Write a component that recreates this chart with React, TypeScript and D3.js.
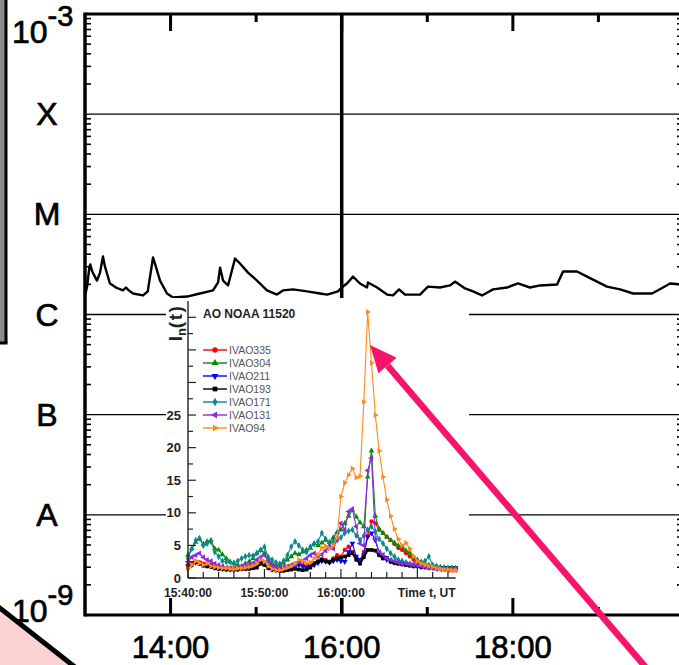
import React from "react";
import * as d3 from "d3";

// ---------- main GOES X-ray panel data ----------
// minutes since 13:00 UT and flux (W/m^2)
const goesMinutes = [0, 1.5, 3, 3.7, 5, 8.4, 10.5, 12.6, 14, 17.5, 22, 26.6, 28.7, 30.5, 33.7, 40.7, 44, 47.7, 50, 52.6, 57.5, 61.7, 71.5, 80.6, 89.8, 93.3, 94.7, 96.8, 100.3, 105.2, 108.7, 114.3, 120.6, 127.6, 134.6, 138.8, 145.8, 155.7, 164.8, 169.7, 177.4, 180, 183.7, 187.9, 192.8, 197.7, 198.4, 204.8, 211.8, 216, 220.2, 224.4, 234.9, 240.5, 248.9, 255.9, 259.4, 266.5, 272.1, 278.4, 286.1, 295.9, 303.6, 312, 319.1, 331, 335.2, 345, 352, 366, 375.2, 384.3, 397.6, 405.3, 410.2, 420];
const goesFlux = [1.55e-6, 1.9e-6, 2.94e-6, 3.16e-6, 2.7e-6, 2.18e-6, 2.6e-6, 3.79e-6, 3.0e-6, 2.04e-6, 1.85e-6, 1.74e-6, 1.86e-6, 1.75e-6, 1.62e-6, 1.55e-6, 1.7e-6, 3.71e-6, 2.9e-6, 2.18e-6, 1.62e-6, 1.48e-6, 1.51e-6, 1.62e-6, 1.74e-6, 2.09e-6, 2.94e-6, 2.18e-6, 1.95e-6, 3.62e-6, 3.23e-6, 2.62e-6, 2.18e-6, 1.74e-6, 1.58e-6, 1.74e-6, 1.78e-6, 1.70e-6, 1.62e-6, 1.58e-6, 1.70e-6, 1.86e-6, 2.04e-6, 2.39e-6, 2.04e-6, 1.86e-6, 2.09e-6, 1.86e-6, 1.58e-6, 1.55e-6, 1.78e-6, 1.58e-6, 1.58e-6, 1.90e-6, 1.86e-6, 1.95e-6, 2.13e-6, 1.82e-6, 1.70e-6, 1.55e-6, 1.78e-6, 1.86e-6, 2.04e-6, 1.86e-6, 1.95e-6, 1.99e-6, 2.69e-6, 2.69e-6, 2.39e-6, 1.90e-6, 1.78e-6, 1.62e-6, 1.62e-6, 1.86e-6, 2.04e-6, 1.99e-6];

const classLetters = ["A", "B", "C", "M", "X"];
const classDecades = [1e-8, 1e-7, 1e-6, 1e-5, 1e-4];
const mainHourTicks = [14, 15, 16, 17, 18, 19];
const mainHourLabels = ["14:00", "16:00", "18:00"];
const mainHourLabelValues = [14, 16, 18];

// ---------- inset data (minutes after 15:40:00, every 30 s) ----------
const insetMinutes = d3.range(0, 35.01, 0.5);
const seriesNames = ["IVAO335", "IVAO304", "IVAO211", "IVAO193", "IVAO171", "IVAO131", "IVAO94"];
const ivao335 = [2.0, 2.2, 2.5, 2.4, 2.2, 2.2, 2.0, 1.8, 1.7, 1.6, 1.5, 1.5, 1.5, 1.5, 1.6, 1.7, 1.8, 1.9, 2.2, 2.6, 2.4, 1.8, 1.5, 1.4, 1.4, 1.5, 1.6, 1.8, 2.0, 2.2, 2.0, 1.9, 2.0, 2.3, 2.6, 2.9, 2.8, 2.5, 3.0, 3.5, 3.3, 4.3, 4.8, 4.0, 3.2, 2.8, 4.0, 6.5, 8.7, 8.4, 7.4, 6.9, 6.3, 5.8, 5.2, 4.6, 4.3, 3.8, 3.3, 2.8, 2.4, 2.2, 2.0, 1.8, 1.7, 1.6, 1.5, 1.5, 1.4, 1.4, 1.4];
const ivao304 = [3.5, 4.5, 5.5, 6.0, 5.2, 5.6, 5.8, 4.5, 4.3, 3.6, 3.0, 2.5, 2.2, 2.0, 1.8, 2.2, 2.5, 3.0, 3.8, 4.3, 3.8, 2.8, 2.2, 2.0, 2.0, 2.3, 2.8, 3.3, 3.8, 3.6, 4.0, 4.3, 4.6, 5.3, 5.0, 5.4, 5.8, 5.5, 6.2, 7.0, 7.4, 8.4, 9.5, 10.4, 9.4, 8.5, 7.9, 15.5, 19.5, 9.5, 7.5, 6.9, 6.3, 5.8, 5.4, 5.0, 4.8, 4.2, 3.8, 3.2, 2.8, 2.5, 2.2, 2.0, 1.9, 1.8, 1.7, 1.6, 1.5, 1.5, 1.5];
const ivao211 = [1.8, 2.0, 2.4, 2.3, 2.0, 1.9, 1.8, 1.6, 1.5, 1.4, 1.4, 1.3, 1.3, 1.4, 1.5, 1.5, 1.6, 1.7, 2.0, 2.4, 2.2, 1.6, 1.3, 1.2, 1.2, 1.3, 1.4, 1.6, 1.8, 2.0, 1.8, 1.6, 1.8, 2.0, 2.3, 2.6, 2.5, 2.4, 2.6, 2.8, 2.6, 2.5, 4.0, 5.3, 3.3, 2.8, 3.5, 6.3, 6.9, 5.8, 3.8, 3.2, 2.8, 2.6, 2.4, 2.3, 2.2, 2.1, 2.0, 1.9, 1.8, 1.7, 1.7, 1.6, 1.6, 1.5, 1.5, 1.5, 1.5, 1.5, 1.5];
const ivao193 = [1.6, 2.0, 2.5, 2.2, 1.9, 1.8, 1.7, 1.5, 1.4, 1.4, 1.3, 1.3, 1.3, 1.3, 1.4, 1.4, 1.4, 1.5, 1.6, 2.2, 2.0, 1.5, 1.3, 1.2, 1.1, 1.1, 1.2, 1.3, 1.4, 1.3, 1.2, 1.3, 1.6, 2.2, 2.5, 2.8, 2.6, 2.4, 2.8, 3.0, 3.1, 3.3, 3.5, 3.8, 2.8, 2.2, 3.2, 4.3, 4.3, 4.2, 3.5, 3.0, 3.1, 2.5, 2.3, 2.2, 2.1, 2.0, 1.9, 1.8, 1.8, 1.7, 1.7, 1.6, 1.6, 1.5, 1.5, 1.5, 1.5, 1.5, 1.5];
const ivao171 = [3.0, 4.5, 5.8, 6.1, 5.0, 5.3, 5.6, 4.0, 3.3, 2.6, 2.5, 2.4, 2.3, 2.6, 3.0, 3.3, 3.5, 3.4, 3.8, 4.3, 4.8, 3.2, 2.8, 2.4, 2.2, 2.6, 3.5, 4.8, 5.6, 5.0, 4.3, 4.0, 4.8, 5.2, 5.6, 6.9, 6.0, 5.3, 5.6, 5.8, 6.2, 6.9, 7.2, 7.4, 6.5, 5.8, 6.5, 7.4, 7.9, 7.1, 6.0, 5.3, 4.5, 3.8, 3.3, 2.8, 2.6, 2.4, 2.2, 2.1, 2.0, 2.2, 2.6, 3.3, 2.0, 1.8, 1.6, 1.5, 1.5, 1.5, 1.5];
const ivao131 = [2.5, 3.2, 3.5, 3.8, 3.2, 2.8, 2.6, 2.2, 2.0, 1.8, 1.6, 1.5, 1.5, 1.6, 1.8, 2.0, 2.0, 2.3, 2.8, 3.2, 3.5, 2.5, 2.0, 1.7, 1.6, 1.7, 1.8, 2.0, 2.2, 2.5, 2.6, 3.0, 3.5, 3.8, 3.3, 3.6, 4.2, 4.8, 4.5, 6.0, 8.4, 7.4, 10.2, 10.6, 7.9, 5.3, 5.0, 16.5, 18.4, 6.0, 4.0, 3.6, 3.0, 2.8, 2.6, 2.4, 2.2, 2.2, 2.1, 2.0, 2.0, 1.8, 1.7, 1.6, 1.5, 1.4, 1.3, 1.3, 1.2, 1.2, 1.2];
const ivao94 = [1.5, 2.0, 2.6, 2.3, 2.0, 2.2, 1.8, 1.7, 1.6, 1.5, 1.5, 1.4, 1.4, 1.5, 1.5, 1.6, 1.7, 1.9, 2.2, 2.8, 2.5, 1.8, 1.4, 1.2, 1.2, 1.4, 1.6, 1.8, 2.2, 2.8, 2.6, 2.3, 2.4, 3.0, 3.6, 4.6, 4.9, 4.5, 5.0, 6.2, 12.5, 14.6, 15.8, 16.8, 15.4, 15.6, 27.0, 40.8, 33.0, 25.0, 19.5, 15.5, 12.0, 9.5, 7.5, 6.0, 5.0, 5.4, 4.5, 3.3, 2.6, 2.2, 2.0, 1.8, 1.7, 1.5, 1.4, 1.3, 1.3, 1.2, 1.2];
const seriesValues = [ivao335, ivao304, ivao211, ivao193, ivao171, ivao131, ivao94];
const seriesColors = ["#ff0000", "#0a8a0a", "#0000ff", "#000000", "#0a8a8a", "#8a2be2", "#ff8a1a"];
const seriesSymbols = ["circle", "up", "down", "square", "diamond", "left", "right"];

const insetYTickLabels = [0, 5, 10, 15, 20, 25];
const insetXLabels = ["15:40:00", "15:50:00", "16:00:00"];
const insetXLabelMinutes = [0, 10, 20];

const FONT = "'Liberation Sans', Arial, Helvetica, sans-serif";

function symbolPath(kind: string, size: number) {
  if (kind === "circle") return { d: d3.symbol(d3.symbolCircle, size)()!, rot: 0 };
  if (kind === "square") return { d: d3.symbol(d3.symbolSquare, size)()!, rot: 0 };
  if (kind === "diamond") return { d: d3.symbol(d3.symbolDiamond, size)()!, rot: 0 };
  const tri = d3.symbol(d3.symbolTriangle, size)()!;
  const rot = kind === "up" ? 0 : kind === "down" ? 180 : kind === "left" ? -90 : 90;
  return { d: tri, rot };
}

export default function App() {
  // main panel scales
  const L = 85, R = 684, T = 14, B = 615;
  const x = d3.scaleLinear().domain([13, 20]).range([L, R]);
  const y = d3.scaleLog().domain([1e-9, 1e-3]).range([B, T]);

  const goesLine = d3
    .line<number>()
    .x((_, i) => x(13 + goesMinutes[i] / 60))
    .y((v) => y(v))
    .curve(d3.curveLinear)(goesFlux)!;

  const minorTicks: number[] = [];
  for (let e = -9; e < -3; e++) {
    for (let k = 2; k <= 9; k++) minorTicks.push(k * Math.pow(10, e));
  }

  // inset scales
  const iL = 188, iR = 455.6, iB = 578, iT = 301;
  const ix = d3.scaleLinear().domain([0, 35]).range([iL, iR]);
  const iy = d3.scaleLinear().domain([0, 42.5]).range([iB, iT]);
  const insetYTicks = d3.range(0, 40.01, 2.5);
  const insetXTicks = d3.range(0, 34.01, 2);

  const lineGen = d3
    .line<number>()
    .x((_, i) => ix(insetMinutes[i]))
    .y((v) => iy(v));

  // arrow
  const tip = [370, 345];
  const tail = [660, 684];
  const dx = tail[0] - tip[0], dy = tail[1] - tip[1];
  const len = Math.hypot(dx, dy);
  const ux = dx / len, uy = dy / len;
  const headLen = 27, headW = 12;
  const base = [tip[0] + ux * headLen, tip[1] + uy * headLen];
  const arrowHead = [
    tip,
    [base[0] - uy * headW, base[1] + ux * headW],
    [base[0] + uy * headW, base[1] - ux * headW],
  ];

  const bigText = { fontSize: 32, fill: "#000", stroke: "#000", strokeWidth: 0.7 };

  return (
    <svg
      width={679}
      height={665}
      style={{ position: "absolute", left: 0, top: 0, background: "#fff" }}
      fontFamily={FONT}
    >
      <rect x={0} y={0} width={679} height={665} fill="#fff" />

      {/* left textured panel edge */}
      <rect x={0} y={0} width={6} height={342} fill="#8a8a8a" />
      <line x1={6} y1={0} x2={6} y2={343} stroke="#000" strokeWidth={3} />
      <line x1={0} y1={343} x2={7.5} y2={343} stroke="#000" strokeWidth={3} />

      {/* class lines */}
      {classDecades.map((d) => (
        <line key={"cl" + d} x1={L} x2={R} y1={y(d)} y2={y(d)} stroke="#000" strokeWidth={1.3} />
      ))}

      {/* minor ticks left & right */}
      {minorTicks.map((v, i) => (
        <g key={"mt" + i}>
          <line x1={L} x2={L + 6} y1={y(v)} y2={y(v)} stroke="#000" strokeWidth={1.6} />
          <line x1={R} x2={R - 7} y1={y(v)} y2={y(v)} stroke="#000" strokeWidth={1.6} />
        </g>
      ))}

      {/* vertical 16:00 line */}
      <line x1={x(16)} x2={x(16)} y1={T} y2={B} stroke="#000" strokeWidth={3.5} />

      {/* hour ticks top & bottom */}
      {mainHourTicks.map((h) => {
        const long = h % 2 === 0;
        const l = long ? 17 : 8;
        return (
          <g key={"ht" + h}>
            <line x1={x(h)} x2={x(h)} y1={T} y2={T + l} stroke="#000" strokeWidth={3} />
            <line x1={x(h)} x2={x(h)} y1={B} y2={B - l} stroke="#000" strokeWidth={3} />
          </g>
        );
      })}

      {/* GOES curve */}
      <path d={goesLine} fill="none" stroke="#000" strokeWidth={2.4} strokeLinejoin="round" />

      {/* frame */}
      <line x1={L} x2={R} y1={T} y2={T} stroke="#000" strokeWidth={3} />
      <line x1={L} x2={R} y1={B} y2={B} stroke="#000" strokeWidth={3} />
      <line x1={L} x2={L} y1={T - 1.5} y2={B + 1.5} stroke="#000" strokeWidth={3.5} />
      <line x1={R} x2={R} y1={T} y2={B} stroke="#000" strokeWidth={3} />

      {/* y labels */}
      <text x={12} y={43} {...bigText}>
        10<tspan dy={-17} fontSize={29}>-3</tspan>
      </text>
      <text x={12} y={622} {...bigText}>
        10<tspan dy={-17} fontSize={29}>-9</tspan>
      </text>
      {classLetters.map((c, i) => (
        <text key={c} x={47} y={y(classDecades[i]) + 11} textAnchor="middle" {...bigText}>
          {c}
        </text>
      ))}

      {/* x labels */}
      {mainHourLabels.map((lab, i) => (
        <text key={lab} x={x(mainHourLabelValues[i])} y={658} textAnchor="middle" {...bigText} fontSize={31}>
          {lab}
        </text>
      ))}

      {/* ---------- inset ---------- */}
      <rect x={166} y={298} width={303} height={300} fill="#fff" />

      {seriesValues.map((vals, si) => (
        <g key={"s" + si}>
          <path
            d={lineGen(vals)!}
            fill="none"
            stroke={seriesColors[si]}
            strokeWidth={seriesNames[si] === "IVAO193" ? 2 : 1.1}
          />
          {vals.map((v, j) => {
            const s = symbolPath(seriesSymbols[si], 14);
            return (
              <path
                key={j}
                d={s.d}
                fill={seriesColors[si]}
                transform={`translate(${ix(insetMinutes[j])},${iy(v)}) rotate(${s.rot})`}
              />
            );
          })}
        </g>
      ))}

      {/* inset axes */}
      <line x1={iL} x2={iL} y1={iT} y2={iB} stroke="#222" strokeWidth={1.4} />
      <line x1={iL} x2={iR} y1={iB} y2={iB} stroke="#222" strokeWidth={1.4} />
      {insetYTicks.map((t) => (
        <line
          key={"iyt" + t}
          x1={iL}
          x2={iL + (t % 5 === 0 ? 8 : 5)}
          y1={iy(t)}
          y2={iy(t)}
          stroke="#222"
          strokeWidth={1.2}
        />
      ))}
      {insetYTickLabels.map((t) => (
        <text key={"iyl" + t} x={181} y={iy(t) + 4.5} fontSize={13} fontWeight="bold" textAnchor="end" fill="#222">
          {t}
        </text>
      ))}
      {insetXTicks.map((t) => (
        <line
          key={"ixt" + t}
          x1={ix(t)}
          x2={ix(t)}
          y1={iB}
          y2={iB - (t % 10 === 0 ? 9 : 6)}
          stroke="#222"
          strokeWidth={1.2}
        />
      ))}
      {insetXLabels.map((lab, i) => (
        <text key={lab} x={ix(insetXLabelMinutes[i])} y={597} fontSize={12} fontWeight="bold" textAnchor="middle" fill="#222">
          {lab}
        </text>
      ))}
      <text x={iR} y={597} fontSize={12} fontWeight="bold" textAnchor="end" fill="#222">
        Time t, UT
      </text>

      {/* inset y label */}
      <text transform="translate(182,323) rotate(-90)" fontSize={19} fontWeight="bold" textAnchor="middle" fill="#222">
        I<tspan dy={4} fontSize={13}>n</tspan>
        <tspan dy={-4} letterSpacing={1.5}>(t)</tspan>
      </text>

      {/* inset title */}
      <text x={203} y={318} fontSize={12} fontWeight="bold" fill="#222">
        AO NOAA 11520
      </text>

      {/* legend */}
      {seriesNames.map((n, i) => {
        const ly = 350 + i * 13;
        const s = symbolPath(seriesSymbols[i], 22);
        return (
          <g key={"lg" + n}>
            <line x1={203} x2={227} y1={ly} y2={ly} stroke={seriesColors[i]} strokeWidth={1.4} />
            <path d={s.d} fill={seriesColors[i]} transform={`translate(215,${ly}) rotate(${s.rot})`} />
            <text x={229} y={ly + 3.8} fontSize={10.5} fill="#555">
              {n}
            </text>
          </g>
        );
      })}

      {/* pink corner */}
      <polygon points="0,608 74,665 0,665" fill="#fcd2d2" />
      <line x1={-4} y1={605} x2={80} y2={671} stroke="#000" strokeWidth={5} />

      {/* arrow */}
      <line x1={base[0]} y1={base[1]} x2={tail[0]} y2={tail[1]} stroke="#f8146c" strokeWidth={6.5} />
      <polygon points={arrowHead.map((p) => p.join(",")).join(" ")} fill="#f8146c" />
    </svg>
  );
}
